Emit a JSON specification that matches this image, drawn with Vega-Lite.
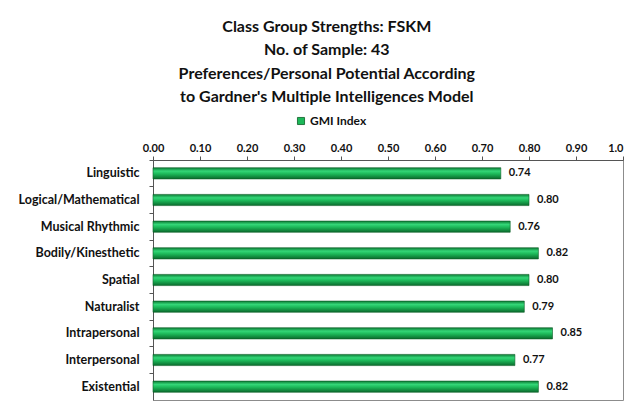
{
  "$schema": "https://vega.github.io/schema/vega-lite/v6.json",
  "autosize": "none",
  "width": 470,
  "height": 240,
  "padding": {"left": 153, "top": 160, "right": 6, "bottom": 4},
  "background": "white",
  "title": {
    "text": ["Class Group Strengths: FSKM", "No. of Sample: 43", "Preferences/Personal Potential According", "to Gardner's Multiple Intelligences Model"],
    "font": "Lato",
    "fontSize": 16,
    "fontWeight": "bold",
    "color": "#111111",
    "lineHeight": 23.5,
    "anchor": "middle",
    "frame": "bounds",
    "offset": 10,
    "dx": 6
  },
  "data": {
    "values": [
      {"intelligence": "Linguistic", "value": 0.74, "series": "GMI Index"},
      {"intelligence": "Logical/Mathematical", "value": 0.80, "series": "GMI Index"},
      {"intelligence": "Musical Rhythmic", "value": 0.76, "series": "GMI Index"},
      {"intelligence": "Bodily/Kinesthetic", "value": 0.82, "series": "GMI Index"},
      {"intelligence": "Spatial", "value": 0.80, "series": "GMI Index"},
      {"intelligence": "Naturalist", "value": 0.79, "series": "GMI Index"},
      {"intelligence": "Intrapersonal", "value": 0.85, "series": "GMI Index"},
      {"intelligence": "Interpersonal", "value": 0.77, "series": "GMI Index"},
      {"intelligence": "Existential", "value": 0.82, "series": "GMI Index"}
    ]
  },
  "encoding": {
    "y": {
      "field": "intelligence",
      "type": "nominal",
      "sort": null,
      "title": null,
      "scale": {"paddingInner": 0, "paddingOuter": 0},
      "axis": {
        "bandPosition": 0,
        "labelFont": "Lato",
        "labelFontSize": 12.5,
        "labelFontWeight": "bold",
        "labelColor": "#111111",
        "labelPadding": 10,
        "tickSize": 4,
        "tickColor": "#555555",
        "domainColor": "#555555",
        "grid": false
      }
    },
    "x": {
      "field": "value",
      "type": "quantitative",
      "title": null,
      "scale": {"domain": [0, 1], "nice": false},
      "axis": {
        "orient": "top",
        "values": [0, 0.1, 0.2, 0.3, 0.4, 0.5, 0.6, 0.7, 0.8, 0.9, 1.0],
        "labelExpr": "datum.value == 1 ? '1.0' : format(datum.value, '.2f')",
        "labelAlign": {"expr": "datum.value == 1 ? 'right' : 'center'"},
        "labelFont": "Lato",
        "labelFontSize": 11,
        "labelFontWeight": "bold",
        "labelColor": "#111111",
        "labelPadding": 3,
        "labelFlush": false,
        "labelOverlap": false,
        "tickSize": 4,
        "tickColor": "#555555",
        "domainColor": "#555555",
        "grid": false
      }
    }
  },
  "layer": [
    {
      "mark": {
        "type": "bar",
        "height": {"band": 0.42},
        "stroke": "#0b5e26",
        "strokeWidth": 0.6,
        "color": {"gradient": "linear", "x1": 0, "y1": 0, "x2": 0, "y2": 1,
          "stops": [
            {"offset": 0, "color": "#0c7a34"},
            {"offset": 0.3, "color": "#33d677"},
            {"offset": 0.55, "color": "#1cb859"},
            {"offset": 1, "color": "#0a6a2c"}
          ]}
      }
    },
    {
      "mark": {"type": "point", "shape": "square", "filled": true, "size": 0, "opacity": 1},
      "encoding": {
        "color": {
          "field": "series",
          "type": "nominal",
          "title": null,
          "scale": {"range": ["#1cb859"]},
          "legend": {
            "orient": "none",
            "legendX": 142,
            "legendY": -45,
            "direction": "horizontal",
            "symbolType": "square",
            "symbolSize": 50,
            "symbolStrokeColor": "#0b5e26",
            "symbolStrokeWidth": 0.8,
            "labelFont": "Lato",
            "labelFontSize": 12,
            "labelFontWeight": "bold",
            "labelColor": "#111111",
            "labelOffset": 3
          }
        }
      }
    },
    {
      "mark": {"type": "text", "align": "left", "baseline": "middle", "dx": 8, "font": "Lato", "fontSize": 11, "fontWeight": "bold", "color": "#111111"},
      "encoding": {
        "text": {"field": "value", "type": "quantitative", "format": ".2f"}
      }
    }
  ],
  "config": {
    "view": {"stroke": "#8c8c8c", "strokeWidth": 1}
  }
}
